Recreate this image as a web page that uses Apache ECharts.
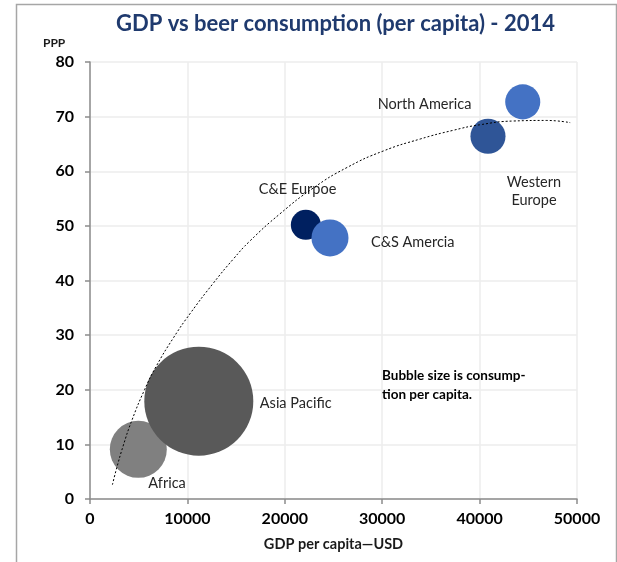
<!DOCTYPE html>
<html>
<head>
<meta charset="utf-8">
<script src="https://cdn.jsdelivr.net/npm/echarts@6/dist/echarts.min.js"></script>
<style>
html,body{margin:0;padding:0;background:#fff;}
#chart{width:617px;height:562px;}
</style>
</head>
<body>
<div id="chart"></div>
<script>
// ---- data ----
var regions = ['Africa', 'Asia Pacific', 'C&E Eurpoe', 'C&S Amercia', 'Western Europe', 'North America'];
var regionLabels = ['Africa', 'Asia Pacific', 'C&E Eurpoe', 'C&S Amercia', 'Western\nEurope', 'North America'];
var gdpPerCapita = [4960, 11170, 22160, 24640, 40860, 44430];
var ppp = [9.1, 17.9, 50.2, 47.8, 66.4, 72.7];
var consumption = [32.5, 118.8, 9.0, 13.7, 12.3, 12.3];
var trendX = [2300, 2700, 3400, 4300, 5600, 6800, 8600, 10300, 12700, 14700, 16400, 19500, 22900, 26400, 30100, 33900, 37300, 40000, 43500, 46900, 49300];
var trendY = [2.6, 5.4, 9.7, 14.4, 20.0, 24.3, 29.6, 34.0, 39.6, 43.9, 47.2, 52.2, 56.9, 60.7, 63.7, 65.9, 67.5, 68.5, 69.2, 69.3, 68.9];
var xTicks = [0, 10000, 20000, 30000, 40000, 50000];
var yTicks = [0, 10, 20, 30, 40, 50, 60, 70, 80];

// ---- styles ----
var bubbleColors = ['#808080', '#595959', '#002060', '#4472C4', '#2F5597', '#4472C4'];
var labelOffsets = [[10, 34], [61, 2], [-47, -35], [41, 4], [46, 55], [-145, 2]];
var labelAligns = ['left', 'left', 'left', 'left', 'center', 'left'];
var FONT = 'Lato, "Open Sans", sans-serif';

var bubbleData = regions.map(function (r, i) {
  return {
    name: r,
    value: [gdpPerCapita[i], ppp[i], consumption[i]],
    itemStyle: { color: bubbleColors[i], opacity: 1 },
    label: {
      show: true,
      position: 'inside',
      align: labelAligns[i],
      verticalAlign: 'middle',
      offset: labelOffsets[i],
      formatter: regionLabels[i],
      color: '#262626',
      fontFamily: FONT,
      fontSize: 14.5,
      lineHeight: 18
    }
  };
});
var trendData = trendX.map(function (x, i) { return [x, trendY[i]]; });

var chart = echarts.init(document.getElementById('chart'), null, { renderer: 'canvas' });
chart.setOption({
  backgroundColor: '#ffffff',
  animation: false,
  title: {
    text: 'GDP vs beer consumption (per capita) - 2014',
    left: 111,
    top: 8,
    textStyle: { fontFamily: FONT, fontSize: 22, fontWeight: 'bold', color: '#1F3A6E' }
  },
  grid: { left: 90, right: 40, top: 62, bottom: 63, containLabel: false },
  xAxis: {
    type: 'value',
    min: xTicks[0], max: xTicks[xTicks.length - 1], interval: xTicks[1] - xTicks[0],
    name: 'GDP per capita\u2014USD',
    nameLocation: 'middle',
    nameGap: 38,
    nameTextStyle: { fontFamily: FONT, fontSize: 14.5, fontWeight: 'bold', color: '#1a1a1a' },
    axisLine: { show: true, onZero: false, lineStyle: { color: '#8C8C8C', width: 1.5 } },
    axisTick: { show: true, inside: false, length: 5, lineStyle: { color: '#8C8C8C', width: 1.5 } },
    axisLabel: {
      margin: 12, fontFamily: FONT, fontSize: 16, fontWeight: 'bold', color: '#000',
      formatter: function (v) { return String(v); }
    },
    splitLine: { show: true, lineStyle: { color: '#EDEDED', width: 1.5 } }
  },
  yAxis: {
    type: 'value',
    min: yTicks[0], max: yTicks[yTicks.length - 1], interval: yTicks[1] - yTicks[0],
    axisLine: { show: true, onZero: false, lineStyle: { color: '#8C8C8C', width: 1.5 } },
    axisTick: { show: true, inside: false, length: 5, lineStyle: { color: '#8C8C8C', width: 1.5 } },
    axisLabel: { margin: 16, fontFamily: FONT, fontSize: 16, fontWeight: 'bold', color: '#000' },
    splitLine: { show: true, lineStyle: { color: '#EDEDED', width: 1.5 } }
  },
  graphic: [
    {
      type: 'rect', left: 14, top: 2, z: -10, silent: true,
      shape: { width: 600, height: 600 },
      style: { fill: 'none', stroke: '#A6A6A6', lineWidth: 1.5 }
    },
    {
      type: 'text', left: 43, top: 37,
      style: { text: 'PPP', fontFamily: FONT, fontSize: 12, fontWeight: 'bold', fill: '#1a1a1a' }
    },
    {
      type: 'text', left: 382, top: 366, z: 10,
      style: {
        text: 'Bubble size is consump-\ntion per capita.',
        fontFamily: FONT, fontSize: 13.5, fontWeight: 'bold', fill: '#000', lineHeight: 19
      }
    }
  ],
  series: [
    {
      type: 'scatter',
      name: 'Regions',
      data: bubbleData,
      symbol: 'circle',
      symbolSize: function (v) { return Math.sqrt(v[2]) * 10; },
      z: 2
    },
    {
      type: 'line',
      name: 'Trend',
      data: trendData,
      smooth: true,
      showSymbol: false,
      symbol: 'none',
      lineStyle: { color: '#000', width: 1, type: [2, 2] },
      z: 5,
      silent: true
    }
  ]
});
</script>
</body>
</html>
